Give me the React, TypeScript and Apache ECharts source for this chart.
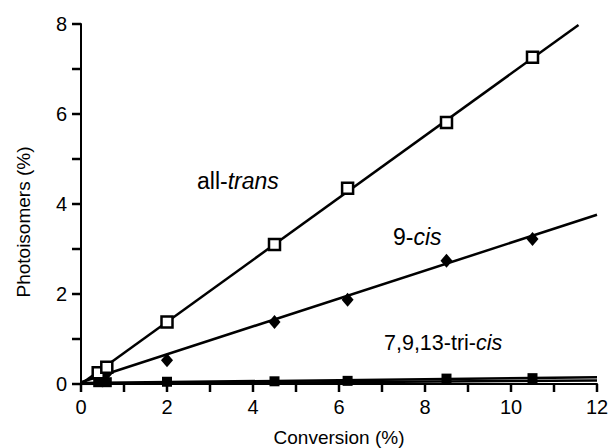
import React, { useEffect, useRef } from "react";
import * as echarts from "echarts";

// Measured data (Conversion %, Photoisomers %)
const conversion = [0.4, 0.6, 2.0, 4.5, 6.2, 8.5, 10.5];
const allTrans = [0.25, 0.37, 1.38, 3.1, 4.35, 5.81, 7.26];
const cis9 = [0.18, 0.24, 0.53, 1.38, 1.87, 2.74, 3.22];
const triCis = [0.04, 0.04, 0.05, 0.06, 0.07, 0.12, 0.13];

// Fitted lines (endpoints)
const allTransFitX = [0, 11.57];
const allTransFitY = [0, 7.98];
const cis9FitX = [0, 12];
const cis9FitY = [0.04, 3.76];
const triCisFitX = [0, 12];
const triCisFitY = [0.02, 0.15];
const otherFitX = [0, 12];
const otherFitY = [0, 0.08];

// Axis ticks and labels
const xTickValues = [0, 1, 2, 3, 4, 5, 6, 7, 8, 9, 10, 11, 12];
const yTickValues = [0, 1, 2, 3, 4, 5, 6, 7, 8];
const xTicks = [0, 2, 4, 6, 8, 10, 12];
const yTicks = [0, 2, 4, 6, 8];

const FONT = "'Liberation Sans', Arial, Helvetica, sans-serif";
const LABEL_SIZE = 20;
const TITLE_SIZE = 19;

const zip = (xs: number[], ys: number[]) => xs.map((x, i) => [x, ys[i]]);

export default function App() {
  const ref = useRef<HTMLDivElement>(null);
  useEffect(() => {
    if (!ref.current) return;
    const chart = echarts.init(ref.current, undefined, { renderer: "svg" });
    const fitLine = (name: string, xs: number[], ys: number[]) => ({
      name,
      type: "line",
      data: zip(xs, ys),
      showSymbol: false,
      symbol: "none",
      lineStyle: { color: "#000", width: 2.5 },
      z: 2,
      silent: true,
    });
    const note = (text: string, x: number, y: number, size: number) => ({
      type: "text",
      x,
      y,
      style: {
        text,
        verticalAlign: "middle",
        rich: {
          n: { fontSize: size, fontFamily: FONT, fill: "#000" },
          i: { fontSize: size, fontFamily: FONT, fontStyle: "italic", fill: "#000" },
        },
      },
    });
    const tickSeries = (name: string, values: number[], dir: "x" | "y") => ({
      name,
      type: "custom",
      silent: true,
      clip: false,
      z: 10,
      data: values.map((v) => (dir === "x" ? [v, 0] : [0, v])),
      renderItem: (_params: any, api: any) => {
        const p = api.coord([api.value(0), api.value(1)]);
        const shape =
          dir === "x"
            ? { x1: p[0], y1: p[1], x2: p[0], y2: p[1] + 8 }
            : { x1: p[0], y1: p[1], x2: p[0] - 9, y2: p[1] };
        return { type: "line", shape, style: { stroke: "#000", lineWidth: 2.5 } };
      },
    });
    chart.setOption({
      animation: false,
      backgroundColor: "#fff",
      grid: { left: 81, right: 13, top: 24, bottom: 64, containLabel: false, outerBoundsMode: "none" },
      xAxis: {
        type: "value",
        min: 0,
        max: 12,
        interval: 1,
        splitLine: { show: false },
        axisLine: { show: true, onZero: false, lineStyle: { color: "#000", width: 2 } },
        axisTick: { show: false },
        name: "Conversion (%)",
        nameLocation: "middle",
        nameGap: 44,
        nameTextStyle: { color: "#000", fontSize: TITLE_SIZE, fontFamily: FONT },
        axisLabel: {
          color: "#000",
          fontSize: LABEL_SIZE,
          fontFamily: FONT,
          margin: 13,
          formatter: (v: number) => (xTicks.includes(v) ? String(v) : ""),
        },
      },
      yAxis: {
        type: "value",
        min: 0,
        max: 8,
        interval: 1,
        splitLine: { show: false },
        axisLine: { show: true, onZero: false, lineStyle: { color: "#000", width: 2 } },
        axisTick: { show: false },
        axisLabel: {
          color: "#000",
          fontSize: LABEL_SIZE,
          fontFamily: FONT,
          margin: 14,
          formatter: (v: number) => (yTicks.includes(v) ? String(v) : ""),
        },
      },
      graphic: [
        {
          type: "text",
          x: 23,
          y: 222,
          rotation: Math.PI / 2,
          style: {
            text: "Photoisomers (%)",
            fill: "#000",
            font: `${TITLE_SIZE}px ${FONT}`,
            align: "center",
            verticalAlign: "middle",
          },
        },
        note("{n|all-}{i|trans}", 197, 181, 23),
        note("{n|9-}{i|cis}", 393, 237, 23),
        note("{n|7,9,13-tri-}{i|cis}", 384, 343, 21.5),
      ],
      series: [
        tickSeries("x ticks", xTickValues, "x"),
        tickSeries("y ticks", yTickValues, "y"),
        fitLine("all-trans fit", allTransFitX, allTransFitY),
        fitLine("9-cis fit", cis9FitX, cis9FitY),
        fitLine("7,9,13-tri-cis fit", triCisFitX, triCisFitY),
        fitLine("other fit", otherFitX, otherFitY),
        {
          name: "7,9,13-tri-cis",
          type: "scatter",
          data: zip(conversion, triCis),
          symbol: "rect",
          symbolSize: 10,
          itemStyle: { color: "#000", opacity: 1 },
          z: 3,
        },
        {
          name: "9-cis",
          type: "scatter",
          data: zip(conversion, cis9),
          symbol: "diamond",
          symbolSize: [12, 14],
          itemStyle: { color: "#000", opacity: 1 },
          z: 3,
        },
        {
          name: "all-trans",
          type: "scatter",
          data: zip(conversion, allTrans),
          symbol: "rect",
          symbolSize: 11,
          itemStyle: { color: "#fff", borderColor: "#000", borderWidth: 2.5, opacity: 1 },
          z: 4,
        },
      ],
    });
    return () => chart.dispose();
  }, []);
  return <div ref={ref} style={{ width: 610, height: 448, position: "absolute", left: 0, top: 0 }} />;
}
